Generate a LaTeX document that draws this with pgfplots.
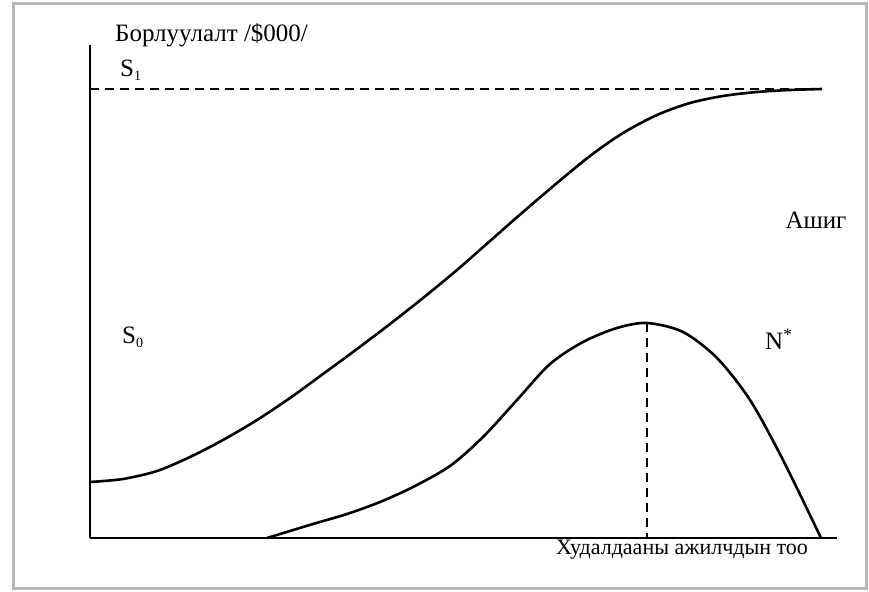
\documentclass[border=0pt]{standalone}
\usepackage{pgfplots}
\pgfplotsset{compat=1.18}
\usepackage{fontspec}
\setmainfont{Liberation Serif}
\begin{document}
\begin{tikzpicture}
\path[use as bounding box] (-90pt,-53pt) rectangle (779pt,538pt);
\draw[line width=3pt, color=gray!55] (-76pt,534pt) rectangle (776pt,-50pt);
\begin{axis}[
  x=1pt, y=1pt,
  xmin=0, xmax=747, ymin=0, ymax=493,
  axis lines=left,
  axis line style={-, line width=2pt},
  xtick=\empty, ytick=\empty,
  clip=false,
  font=\fontsize{25}{29}\selectfont,
]
% sales curve
\addplot[smooth, line width=2.6pt, black] coordinates {
(0,56) (33,59) (67,67) (100,81) (133,98) (167,118) (200,140) (233,164) (267,189) (300,214) (333,240) (367,268) (400,297) (433,326) (467,355) (500,382) (533,405) (567,423) (600,435) (633,442) (667,446) (700,448) (732,449)
};
% asymptote
\addplot[line width=1.8pt, black, dash pattern=on 9pt off 6pt] coordinates {(0,449) (722,449)};
% profit curve
\addplot[smooth, line width=2.6pt, black] coordinates {
(177,0) (223,14) (257,24) (290,36) (323,51) (360,72) (393,101) (427,138) (460,174) (493,196) (527,210) (557,215) (593,206) (627,180) (660,138) (693,78) (731,0)
};
% N* vertical dashed
\addplot[line width=1.8pt, black, dash pattern=on 9pt off 6pt] coordinates {(557,215) (557,0)};
\node[anchor=west, inner sep=0pt] at (axis cs:25,503) {Борлуулалт /\$000/};
\node[anchor=west, inner sep=0pt] at (axis cs:30,468) {S\raisebox{-0.35ex}{\fontsize{14}{16}\selectfont 1}};
\node[anchor=west, inner sep=0pt] at (axis cs:32,201) {S\raisebox{-0.35ex}{\fontsize{14}{16}\selectfont 0}};
\node[inner sep=0pt] at (axis cs:726,318) {Ашиг};
\node[anchor=west, inner sep=0pt] at (axis cs:675,199) {N\textsuperscript{*}};
\node[inner sep=0pt, font=\fontsize{22}{26}\selectfont] at (axis cs:592,-12) {Худалдааны ажилчдын тоо};
\end{axis}
\end{tikzpicture}
\end{document}
